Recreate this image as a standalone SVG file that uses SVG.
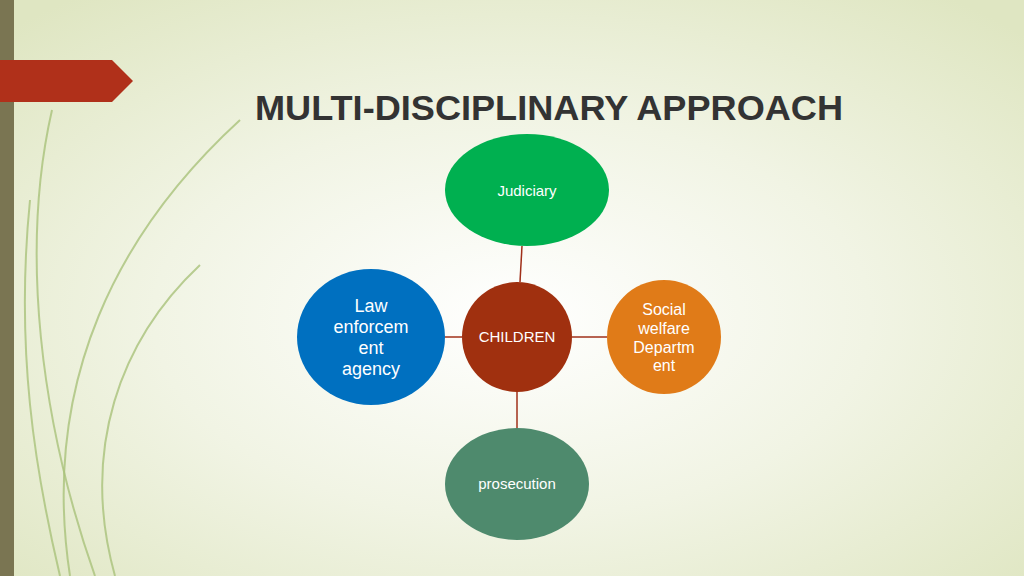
<svg xmlns="http://www.w3.org/2000/svg" width="1024" height="576" viewBox="0 0 1024 576">
<defs>
<radialGradient id="bg" cx="0.5" cy="0.55" r="0.7">
<stop offset="0" stop-color="#ffffff"/><stop offset="0.5" stop-color="#f1f4e4"/><stop offset="1" stop-color="#dfe6c2"/>
</radialGradient>
<style>
.t{font-family:"Liberation Sans",Arial,sans-serif;fill:#fff;text-anchor:middle}
.c{stroke:#a0301a;stroke-width:1.5;fill:none}
.g{fill:none;stroke:#a9c27a;stroke-width:2;opacity:0.8}
</style>
</defs>
<rect width="1024" height="576" fill="url(#bg)"/>
<g id="decor">
<path class="g" d="M52 110 C20 250 40 420 95 576"/>
<path class="g" d="M200 265 C120 340 80 450 115 576"/>
<path class="g" d="M240 120 C120 230 40 380 70 576"/>
<path class="g" d="M30 200 C15 350 35 470 60 576"/>
<rect x="0" y="0" width="14" height="576" fill="#7a7552"/>
<polygon points="0,60 112,60 133,81 112,102 0,102" fill="#b0301a"/>
</g>
<text x="255" y="120" font-family="Liberation Sans,Arial,sans-serif" font-weight="bold" font-size="35" fill="#333" textLength="588" lengthAdjust="spacingAndGlyphs">MULTI-DISCIPLINARY APPROACH</text>
<g id="connectors">
<line class="c" x1="522" y1="246" x2="520" y2="282"/>
<line class="c" x1="445" y1="337" x2="462" y2="337"/>
<line class="c" x1="572" y1="337" x2="607" y2="337"/>
<line class="c" x1="517" y1="392" x2="517" y2="428"/>
</g>
<g id="judiciary"><ellipse cx="527" cy="190" rx="82" ry="56" fill="#00b050"/><text class="t" x="527" y="196" font-size="15">Judiciary</text></g>
<g id="children"><circle cx="517" cy="337" r="55" fill="#a0300f"/><text class="t" x="517" y="342" font-size="15">CHILDREN</text></g>
<g id="law"><ellipse cx="371" cy="337" rx="74" ry="68" fill="#0070c0"/>
<text class="t" font-size="18"><tspan x="371" y="312">Law</tspan><tspan x="371" y="333">enforcem</tspan><tspan x="371" y="354">ent</tspan><tspan x="371" y="375">agency</tspan></text></g>
<g id="social"><circle cx="664" cy="337" r="57" fill="#e07b18"/>
<text class="t" font-size="16"><tspan x="664" y="315">Social</tspan><tspan x="664" y="334">welfare</tspan><tspan x="664" y="353">Departm</tspan><tspan x="664" y="371">ent</tspan></text></g>
<g id="prosecution"><ellipse cx="517" cy="484" rx="72" ry="56" fill="#4e8a6d"/><text class="t" x="517" y="489" font-size="15">prosecution</text></g>
</svg>
